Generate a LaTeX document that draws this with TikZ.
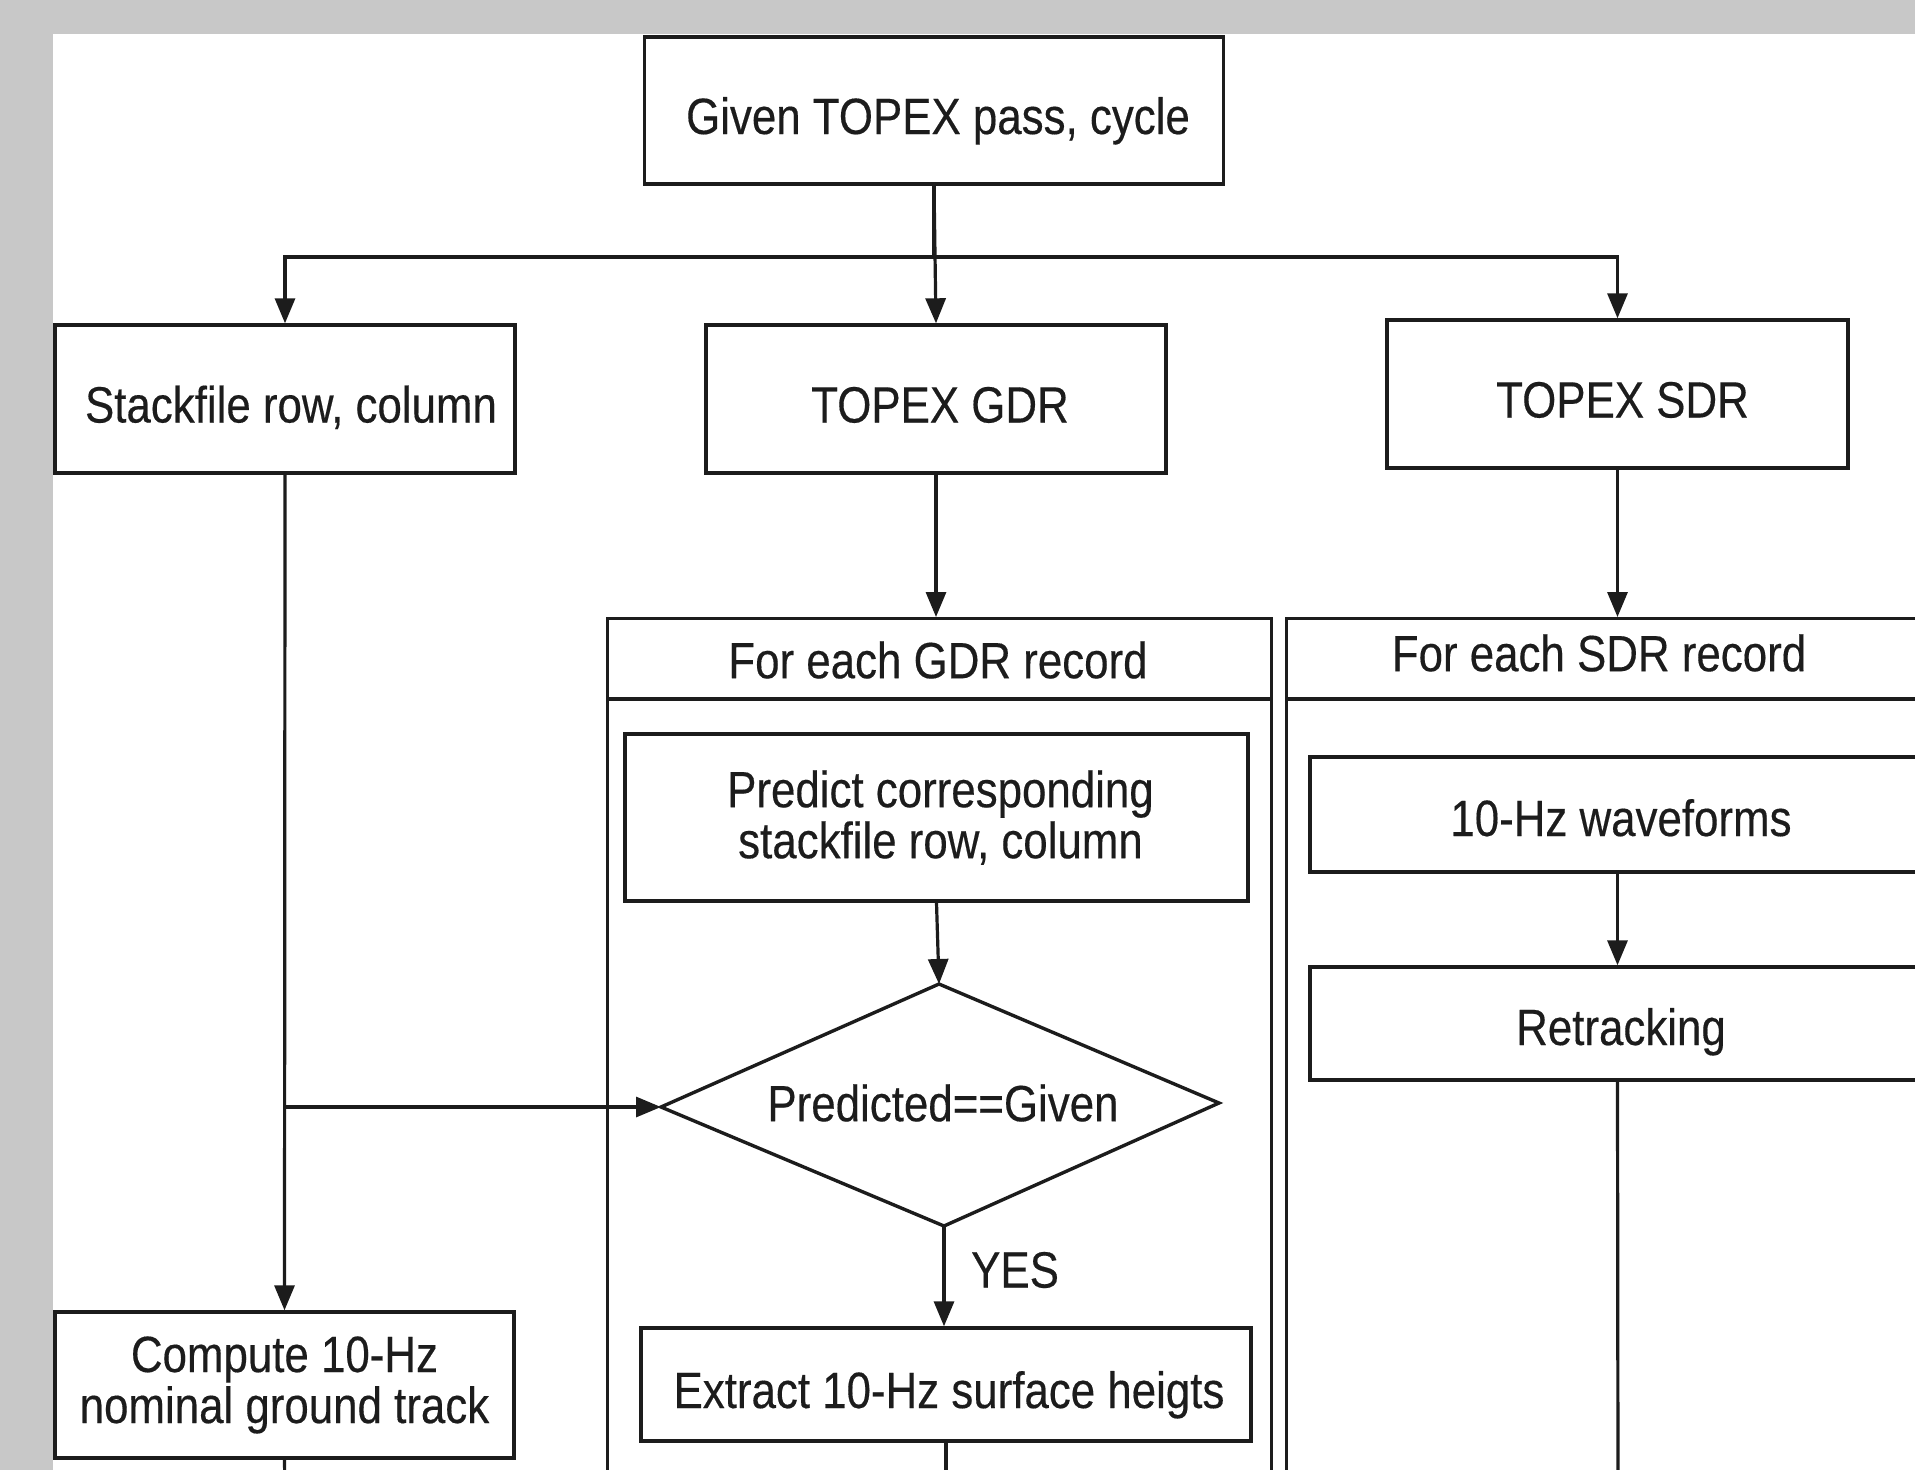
\documentclass[tikz,border=0pt]{standalone}
\usepackage{fontspec}
\setmainfont{Liberation Sans}[FakeStretch=0.86,FakeBold=0.3]
\usetikzlibrary{arrows.meta}
\definecolor{bggray}{HTML}{C8C8C8}
\definecolor{ink}{HTML}{1C1C1C}
\begin{document}
\begin{tikzpicture}[x=1pt,y=-1pt,
  every node/.style={font=\fontsize{51}{51}\selectfont, text=ink},
  box/.style={draw=ink, line width=3.4pt, rectangle, inner sep=0pt, align=center},
  one/.style={text height=47pt, text depth=0pt},
  lowone/.style={text height=43pt, text depth=0pt},
  loopbox/.style={draw=ink, line width=3pt, rectangle, inner sep=0pt, anchor=north west},
  line/.style={draw=ink, line width=3.2pt},
  arr/.style={line, -{Triangle[length=25pt,width=20pt]}},
  lbl/.style={inner sep=0pt}]
\useasboundingbox (0,0) rectangle (1915,1470);
\fill[bggray] (0,0) rectangle (1915,1470);
\fill[white] (52.5,34) rectangle (1915,1470);
\clip (0,0) rectangle (1915,1470);

% top level
\node[box, one, minimum width=579pt, minimum height=147pt] (top) at (934,110.5) {\hspace*{8pt}Given TOPEX pass, cycle};
\node[box, one, minimum width=460pt, minimum height=148pt] (stack) at (285,399) {\hspace*{12pt}Stackfile row, column};
\node[box, one, minimum width=460pt, minimum height=148pt] (gdr) at (936,399) {\hspace*{8pt}TOPEX GDR};
\node[box, one, minimum width=461pt, minimum height=148pt] (sdr) at (1617.5,394) {\hspace*{10pt}TOPEX SDR};
\coordinate (hub) at (934,257);
\coordinate (botL) at (285,1500);

% loop containers
\node[loopbox, minimum width=664pt, minimum height=900pt] (gdrloop) at (606,617) {};
\node[loopbox, minimum width=700pt, minimum height=900pt] (sdrloop) at (1285,617) {};
\draw[line] (gdrloop.west |- 0,699) -- (gdrloop.east |- 0,699);
\draw[line] (sdrloop.west |- 0,699) -- (sdrloop.east |- 0,699);
\node[lbl] (gdrhead) at (938,660) {For each GDR record};
\node[lbl] (sdrhead) at (1599,653) {For each SDR record};

% GDR branch
\node[box, minimum width=623pt, minimum height=167pt] (predict) at (936.5,817.5) {\hspace*{8pt}Predict corresponding\\\hspace*{8pt}stackfile row, column};
\node[lbl] (dec) at (943,1103) {Predicted==Given};
\coordinate (decN) at (939,984);
\coordinate (decE) at (1219,1103);
\coordinate (decS) at (944,1226);
\coordinate (decW) at (661,1107);
\draw[line, line width=3.4pt, line join=miter] (decN) -- (decE) -- (decS) -- (decW) -- cycle;
\node[box, one, minimum width=610pt, minimum height=113pt] (extract) at (946,1384.5) {\hspace*{6pt}Extract 10-Hz surface heigts};
\node[lbl, anchor=west] (yes) at (971,1270) {YES};
\coordinate (botG) at (946,1500);

% stackfile branch
\node[box, minimum width=459pt, minimum height=146pt] (compute) at (284.5,1385) {Compute 10-Hz\\nominal ground track};

% SDR branch
\node[box, lowone, minimum width=622pt, minimum height=115pt] (wave) at (1621,814.5) {10-Hz waveforms};
\node[box, lowone, minimum width=622pt, minimum height=113pt] (retrack) at (1621,1023.5) {Retracking};
\coordinate (botS) at (1618,1500);

% connectors
\draw[line] (top.south) -- (hub);
\draw[arr] (hub) -| (stack.north);
\draw[arr] (hub) -| (sdr.north);
\draw[arr] (top.south) -- (gdr.north);
\draw[arr] (gdr.south) -- (gdr.south |- gdrloop.north);
\draw[arr] (sdr.south) -- (sdr.south |- sdrloop.north);
\draw[arr] (stack.south) -- (compute.north);
\coordinate (br) at (stack.south |- decW);
\draw[arr] (br) -- (decW);
\draw[line] (compute.south) -- (botL);
\draw[arr] (predict.south) -- (decN);
\draw[arr] (decS) -- (decS |- extract.north);
\draw[line] (extract.south) -- (botG);
\draw[arr] (sdr.south |- wave.south) -- (sdr.south |- retrack.north);
\draw[line] (sdr.south |- retrack.south) -- (botS);
\end{tikzpicture}
\end{document}
